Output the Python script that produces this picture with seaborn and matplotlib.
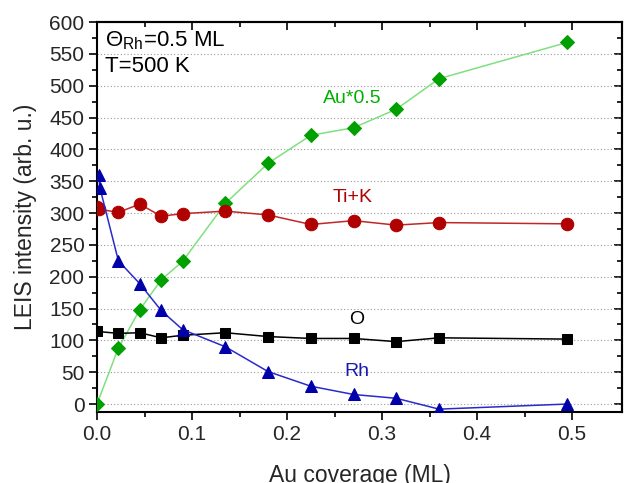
import numpy as np
import pandas as pd
import matplotlib
matplotlib.use("Agg")
import matplotlib.pyplot as plt
import seaborn as sns

# ---- data ----
au_x = [0.0, 0.0225, 0.045, 0.0675, 0.09, 0.135, 0.18, 0.225, 0.27, 0.315, 0.36, 0.495]
au_y = [0, 88, 148, 195, 224, 315, 378, 422, 434, 463, 511, 568]

tik_x = [0.0, 0.002, 0.0225, 0.045, 0.0675, 0.09, 0.135, 0.18, 0.225, 0.27, 0.315, 0.36, 0.495]
tik_y = [309, 306, 301, 314, 295, 299, 303, 297, 282, 288, 281, 285, 283]

o_x = [0.0, 0.0225, 0.045, 0.0675, 0.09, 0.135, 0.18, 0.225, 0.27, 0.315, 0.36, 0.495]
o_y = [114, 111, 112, 104, 108, 112, 106, 103, 103, 98, 104, 102]

rh_x = [0.002, 0.003, 0.0225, 0.045, 0.0675, 0.09, 0.135, 0.18, 0.225, 0.27, 0.315, 0.36, 0.495]
rh_y = [359, 340, 225, 189, 147, 117, 90, 51, 28, 15, 9, -8, 0]

x_ticks = [0.0, 0.1, 0.2, 0.3, 0.4, 0.5]
y_ticks = list(range(0, 601, 50))

sns.set_theme(style="white")
plt.rcParams['font.family'] = ['Liberation Sans', 'DejaVu Sans']
plt.rcParams['mathtext.fontset'] = 'custom'
plt.rcParams['mathtext.rm'] = 'Liberation Sans'
plt.rcParams['mathtext.it'] = 'Liberation Sans'

fig = plt.figure(figsize=(6.24, 4.83), dpi=100)
ax = fig.add_axes([97/624, 71/483, 525/624, 390/483])

series = [
    (au_x, au_y, "#80e080", "#00a000", "D", 7.5),
    (tik_x, tik_y, "#c02828", "#b00000", "o", 9),
    (o_x, o_y, "#000000", "#000000", "s", 7),
    (rh_x, rh_y, "#2a2acc", "#0000aa", "^", 8.5),
]
for xs, ys, lc, mc, mk, ms in series:
    df = pd.DataFrame({"x": xs, "y": ys})
    sns.lineplot(data=df, x="x", y="y", ax=ax, color=lc, sort=False, estimator=None,
                 linewidth=1.1, marker=mk, markersize=ms, markerfacecolor=mc,
                 markeredgecolor=mc, zorder=3)

ax.set_xlim(0, 0.5525)
ax.set_ylim(-12.5, 600)
ax.set_xticks(x_ticks)
ax.set_xticklabels([f"{v:.1f}" for v in x_ticks])
ax.set_yticks(y_ticks)
ax.set_yticklabels([str(v) for v in y_ticks])
ax.set_xticks(np.arange(0.05, 0.55, 0.1), minor=True)
ax.set_yticks(np.arange(25, 600, 50), minor=True)

for yv in y_ticks[:-1]:
    ax.axhline(yv, color="#999999", linestyle=(0, (1, 2)), linewidth=0.8, zorder=1)

ax.tick_params(which='major', direction='out', length=6, width=1.2, labelsize=15,
               bottom=True, left=True, top=False, right=False, color='black', pad=3)
ax.tick_params(which='minor', direction='out', length=3.5, width=1.2,
               bottom=True, left=True, top=False, right=False, color='black')

for s in ax.spines.values():
    s.set_color('black')
    s.set_linewidth(1.5)

secx = ax.secondary_xaxis('top')
secx.set_xticks(x_ticks)
secx.set_xticks(np.arange(0.05, 0.55, 0.1), minor=True)
secx.tick_params(which='major', direction='in', length=6, width=1.2, labeltop=False, color='black')
secx.tick_params(which='minor', direction='in', length=3.5, width=1.2, color='black')
secx.set_xticklabels([])
secx.spines['top'].set_linewidth(1.5)
secy = ax.secondary_yaxis('right')
secy.set_yticks(y_ticks)
secy.set_yticks(np.arange(25, 600, 50), minor=True)
secy.tick_params(which='major', direction='in', length=6, width=1.2, labelright=False, color='black')
secy.tick_params(which='minor', direction='in', length=3.5, width=1.2, color='black')
secy.set_yticklabels([])
secy.spines['right'].set_linewidth(1.5)

ax.set_xlabel("Au coverage (ML)", fontsize=16.5, labelpad=15)
ax.set_ylabel("LEIS intensity (arb. u.)", fontsize=16.5, labelpad=9)

ax.text(0.008, 570, r"$\Theta_{\mathrm{Rh}}$=0.5 ML", fontsize=16, va='center', ha='left', color='black')
ax.text(0.008, 530, "T=500 K", fontsize=16, va='center', ha='left', color='black')
ax.text(0.269, 480, "Au*0.5", fontsize=14, color="#00b000", ha='center', va='center')
ax.text(0.269, 325, "Ti+K", fontsize=14, color="#b00000", ha='center', va='center')
ax.text(0.273, 133, "O", fontsize=14, color="black", ha='center', va='center')
ax.text(0.274, 51, "Rh", fontsize=14, color="#1a1ab0", ha='center', va='center')

fig.savefig("out.png", dpi=100)
